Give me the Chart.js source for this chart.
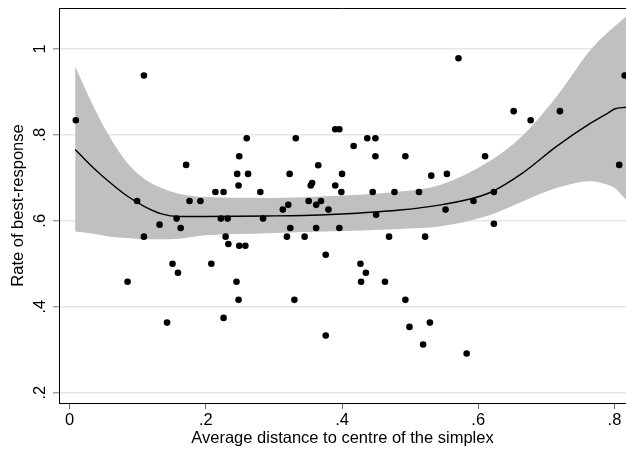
<!DOCTYPE html>
<html>
<head>
<meta charset="utf-8">
<script src="https://cdn.jsdelivr.net/npm/chart.js@4.4.0/dist/chart.umd.min.js"></script>
<style>
  html, body { margin: 0; padding: 0; background: #fff; }
  #wrap { width: 626px; height: 450px; }
</style>
</head>
<body>
<div id="wrap"><canvas id="bestResponseChart" width="626" height="450"></canvas></div>
<script>
// --- axis ticks ---
const xTicks = [0, 0.2, 0.4, 0.6, 0.8];
const yTicks = [0.2, 0.4, 0.6, 0.8, 1];

// --- observed sessions (distance, rate of best-response) ---
const distX = [0.009, 0.109, 0.099, 0.171, 0.176, 0.192, 0.214, 0.226, 0.260, 0.249,
  0.246, 0.262, 0.248, 0.280, 0.332, 0.323, 0.354, 0.356, 0.365, 0.313,
  0.321, 0.351, 0.362, 0.157, 0.222, 0.232, 0.284, 0.132, 0.163, 0.109,
  0.229, 0.233, 0.249, 0.258, 0.319, 0.324, 0.345, 0.362, 0.085, 0.151,
  0.159, 0.208, 0.245, 0.248, 0.330, 0.226, 0.143, 0.369, 0.380, 0.390,
  0.396, 0.390, 0.400, 0.399, 0.417, 0.437, 0.449, 0.449, 0.445, 0.477,
  0.450, 0.493, 0.513, 0.531, 0.554, 0.552, 0.571, 0.593, 0.610, 0.623,
  0.652, 0.677, 0.720, 0.815, 0.807, 0.623, 0.396, 0.469, 0.522, 0.376,
  0.427, 0.435, 0.428, 0.463, 0.493, 0.499, 0.529, 0.519, 0.583, 0.376];
const rateY = [0.834, 0.938, 0.646, 0.730, 0.646, 0.646, 0.667, 0.667, 0.792, 0.750,
  0.709, 0.709, 0.682, 0.667, 0.792, 0.709, 0.682, 0.688, 0.729, 0.626,
  0.637, 0.646, 0.637, 0.605, 0.605, 0.605, 0.605, 0.591, 0.583, 0.563,
  0.563, 0.546, 0.542, 0.542, 0.563, 0.583, 0.563, 0.583, 0.458, 0.500,
  0.479, 0.500, 0.458, 0.416, 0.416, 0.374, 0.363, 0.646, 0.626, 0.813,
  0.813, 0.682, 0.709, 0.667, 0.774, 0.792, 0.792, 0.750, 0.667, 0.667,
  0.614, 0.750, 0.667, 0.705, 0.709, 0.626, 0.978, 0.646, 0.750, 0.667,
  0.855, 0.834, 0.855, 0.938, 0.730, 0.593, 0.583, 0.563, 0.563, 0.521,
  0.500, 0.479, 0.458, 0.458, 0.416, 0.353, 0.363, 0.312, 0.291, 0.333];

// --- smoothed fit with confidence band, read at these distances ---
const fitX = [0.008, 0.035, 0.06, 0.085, 0.11, 0.135, 0.16, 0.2, 0.29, 0.375,
  0.485, 0.545, 0.615, 0.665, 0.715, 0.765, 0.79, 0.8, 0.817];
const fitY = [0.766, 0.723, 0.688, 0.657, 0.633, 0.616, 0.610, 0.610, 0.611, 0.614,
  0.625, 0.637, 0.664, 0.711, 0.773, 0.827, 0.850, 0.860, 0.864];
const bandUpper = [0.959, 0.866, 0.792, 0.734, 0.697, 0.676, 0.663, 0.655, 0.653, 0.657,
  0.668, 0.684, 0.737, 0.798, 0.889, 0.998, 1.038, 1.052, 1.075];
const bandLower = [0.575, 0.570, 0.563, 0.560, 0.557, 0.557, 0.558, 0.566, 0.571, 0.575,
  0.581, 0.587, 0.612, 0.645, 0.676, 0.692, 0.684, 0.677, 0.649];

const FONT = { family: '"Liberation Sans", Arial, Helvetica, sans-serif', size: 16.5 };

// stata style labels: .2 .4 ... 1
function fmtTick(v) {
  if (v === 0) return '0';
  const r = Math.round(v * 10) / 10;
  return r === 1 ? '1' : String(r).replace(/^0\./, '.');
}

const xy = (xs, ys) => xs.map((x, i) => ({ x: x, y: ys[i] }));

// top frame line of the plot region
const topBorder = {
  id: 'topBorder',
  afterDraw(chart) {
    const { ctx, chartArea } = chart;
    ctx.save();
    ctx.strokeStyle = '#000';
    ctx.lineWidth = 1;
    ctx.beginPath();
    ctx.moveTo(chartArea.left, chartArea.top + 0.5);
    ctx.lineTo(chartArea.right, chartArea.top + 0.5);
    ctx.stroke();
    ctx.restore();
  }
};

const ctx = document.getElementById('bestResponseChart').getContext('2d');
new Chart(ctx, {
  type: 'scatter',
  data: {
    datasets: [
      {
        label: 'Sessions',
        data: xy(distX, rateY),
        pointRadius: 3.3,
        pointBackgroundColor: '#000',
        pointBorderWidth: 0,
        order: 0
      },
      {
        type: 'line',
        label: 'Fit',
        data: xy(fitX, fitY),
        borderColor: '#000',
        borderWidth: 1.4,
        pointRadius: 0,
        cubicInterpolationMode: 'monotone',
        fill: false,
        order: 1
      },
      {
        type: 'line',
        label: 'Upper',
        data: xy(fitX, bandUpper),
        borderWidth: 0,
        pointRadius: 0,
        cubicInterpolationMode: 'monotone',
        backgroundColor: '#c0c0c0',
        fill: '+1',
        order: 2
      },
      {
        type: 'line',
        label: 'Lower',
        data: xy(fitX, bandLower),
        borderWidth: 0,
        pointRadius: 0,
        cubicInterpolationMode: 'monotone',
        fill: false,
        order: 3
      }
    ]
  },
  options: {
    responsive: false,
    animation: false,
    devicePixelRatio: 1,
    layout: { padding: { top: 8, left: 0, right: 0, bottom: 0 }, autoPadding: false },
    plugins: {
      legend: { display: false },
      tooltip: { enabled: false }
    },
    scales: {
      x: {
        type: 'linear',
        min: -0.0157,
        max: 0.817,
        afterBuildTicks: s => { s.ticks = xTicks.map(v => ({ value: v })); },
        afterFit: s => { s.height = 47; s.paddingLeft = 0; s.paddingRight = 0; },
        border: { display: true, color: '#000', width: 1 },
        grid: { drawOnChartArea: false, drawTicks: true, tickLength: 6, tickColor: '#666', tickWidth: 1 },
        ticks: { callback: fmtTick, color: '#000', font: FONT, padding: 2, maxRotation: 0, autoSkip: false },
        title: {
          display: true,
          text: 'Average distance to centre of the simplex',
          color: '#000',
          font: FONT,
          padding: { top: 0, bottom: 2 }
        }
      },
      y: {
        type: 'linear',
        min: 0.176,
        max: 1.095,
        afterBuildTicks: s => { s.ticks = yTicks.map(v => ({ value: v })); },
        afterFit: s => { s.width = 59; s.paddingTop = 0; s.paddingBottom = 0; },
        border: { display: true, color: '#000', width: 1 },
        grid: { color: '#e6e6e6', lineWidth: 1.5, drawTicks: true, tickLength: 6, tickColor: '#777', tickWidth: 1 },
        ticks: {
          callback: fmtTick, color: '#000', font: FONT,
          minRotation: 90, maxRotation: 90, crossAlign: 'center', padding: 6
        },
        title: {
          display: true,
          text: 'Rate of best-response',
          color: '#000',
          font: FONT,
          padding: { top: 9, bottom: 0 }
        }
      }
    }
  },
  plugins: [topBorder]
});
</script>
</body>
</html>
